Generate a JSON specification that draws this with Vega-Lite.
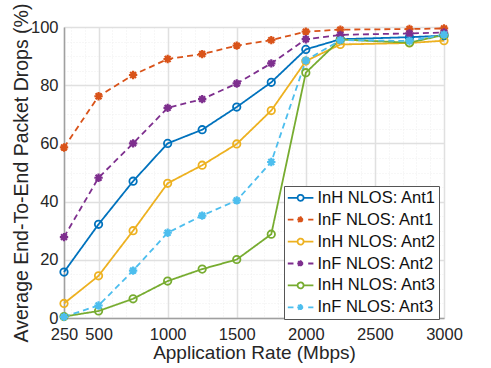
{
  "$schema": "https://vega.github.io/schema/vega-lite/v6.json",
  "width": 380,
  "height": 291,
  "autosize": {"type": "none"},
  "padding": {"left": 64, "top": 27, "right": 47, "bottom": 50},
  "background": "white",
  "config": {
    "view": {"stroke": null},
    "font": "Liberation Sans",
    "axis": {
      "domainColor": "#a0a0a0",
      "domainWidth": 1.5,
      "gridOpacity": 1,
      "ticks": false,
      "labelFont": "Liberation Sans",
      "labelFontSize": 16.5,
      "labelColor": "#262626",
      "titleFont": "Liberation Sans",
      "titleFontSize": 19,
      "titleFontWeight": "normal",
      "titleColor": "#262626"
    },
    "legend": {
      "orient": "none",
      "legendX": 220,
      "legendY": 159,
      "strokeColor": "#555555",
      "fillColor": "white",
      "padding": 2.8,
      "rowPadding": 3.9,
      "labelFont": "Liberation Sans",
      "labelFontSize": 16.5,
      "labelColor": "#111111",
      "labelOffset": 12.7,
      "symbolSize": 256,
      "symbolStrokeWidth": 1.8,
      "symbolOpacity": 1,
      "symbolFillColor": "transparent"
    }
  },
  "data": {
    "values": [
      {"series": "InH NLOS: Ant1", "rate": 250, "drops": 15.8},
      {"series": "InH NLOS: Ant1", "rate": 500, "drops": 32.2},
      {"series": "InH NLOS: Ant1", "rate": 750, "drops": 47},
      {"series": "InH NLOS: Ant1", "rate": 1000, "drops": 60},
      {"series": "InH NLOS: Ant1", "rate": 1250, "drops": 64.7},
      {"series": "InH NLOS: Ant1", "rate": 1500, "drops": 72.5},
      {"series": "InH NLOS: Ant1", "rate": 1750, "drops": 81},
      {"series": "InH NLOS: Ant1", "rate": 2000, "drops": 92.3},
      {"series": "InH NLOS: Ant1", "rate": 2250, "drops": 95.8},
      {"series": "InH NLOS: Ant1", "rate": 2750, "drops": 96.5},
      {"series": "InH NLOS: Ant1", "rate": 3000, "drops": 97},
      {"series": "InF NLOS: Ant1", "rate": 250, "drops": 58.6},
      {"series": "InF NLOS: Ant1", "rate": 500, "drops": 76.2},
      {"series": "InF NLOS: Ant1", "rate": 750, "drops": 83.5},
      {"series": "InF NLOS: Ant1", "rate": 1000, "drops": 89},
      {"series": "InF NLOS: Ant1", "rate": 1250, "drops": 90.7},
      {"series": "InF NLOS: Ant1", "rate": 1500, "drops": 93.6},
      {"series": "InF NLOS: Ant1", "rate": 1750, "drops": 95.5},
      {"series": "InF NLOS: Ant1", "rate": 2000, "drops": 98.4},
      {"series": "InF NLOS: Ant1", "rate": 2250, "drops": 99.1},
      {"series": "InF NLOS: Ant1", "rate": 2750, "drops": 99.3},
      {"series": "InF NLOS: Ant1", "rate": 3000, "drops": 99.5},
      {"series": "InH NLOS: Ant2", "rate": 250, "drops": 5},
      {"series": "InH NLOS: Ant2", "rate": 500, "drops": 14.5},
      {"series": "InH NLOS: Ant2", "rate": 750, "drops": 30},
      {"series": "InH NLOS: Ant2", "rate": 1000, "drops": 46.3},
      {"series": "InH NLOS: Ant2", "rate": 1250, "drops": 52.5},
      {"series": "InH NLOS: Ant2", "rate": 1500, "drops": 59.8},
      {"series": "InH NLOS: Ant2", "rate": 1750, "drops": 71.3},
      {"series": "InH NLOS: Ant2", "rate": 2000, "drops": 88.3},
      {"series": "InH NLOS: Ant2", "rate": 2250, "drops": 94},
      {"series": "InH NLOS: Ant2", "rate": 2750, "drops": 94.5},
      {"series": "InH NLOS: Ant2", "rate": 3000, "drops": 95.3},
      {"series": "InF NLOS: Ant2", "rate": 250, "drops": 27.8},
      {"series": "InF NLOS: Ant2", "rate": 500, "drops": 48.2},
      {"series": "InF NLOS: Ant2", "rate": 750, "drops": 60},
      {"series": "InF NLOS: Ant2", "rate": 1000, "drops": 72.2},
      {"series": "InF NLOS: Ant2", "rate": 1250, "drops": 75.2},
      {"series": "InF NLOS: Ant2", "rate": 1500, "drops": 80.6},
      {"series": "InF NLOS: Ant2", "rate": 1750, "drops": 87.5},
      {"series": "InF NLOS: Ant2", "rate": 2000, "drops": 95.8},
      {"series": "InF NLOS: Ant2", "rate": 2250, "drops": 97.3},
      {"series": "InF NLOS: Ant2", "rate": 2750, "drops": 97.8},
      {"series": "InF NLOS: Ant2", "rate": 3000, "drops": 98.1},
      {"series": "InH NLOS: Ant3", "rate": 250, "drops": 0.5},
      {"series": "InH NLOS: Ant3", "rate": 500, "drops": 2.4},
      {"series": "InH NLOS: Ant3", "rate": 750, "drops": 6.6},
      {"series": "InH NLOS: Ant3", "rate": 1000, "drops": 12.7},
      {"series": "InH NLOS: Ant3", "rate": 1250, "drops": 16.8},
      {"series": "InH NLOS: Ant3", "rate": 1500, "drops": 20.1},
      {"series": "InH NLOS: Ant3", "rate": 1750, "drops": 28.8},
      {"series": "InH NLOS: Ant3", "rate": 2000, "drops": 84.3},
      {"series": "InH NLOS: Ant3", "rate": 2250, "drops": 95.7},
      {"series": "InH NLOS: Ant3", "rate": 2750, "drops": 94.6},
      {"series": "InH NLOS: Ant3", "rate": 3000, "drops": 97.3},
      {"series": "InF NLOS: Ant3", "rate": 250, "drops": 0.4},
      {"series": "InF NLOS: Ant3", "rate": 500, "drops": 4.3},
      {"series": "InF NLOS: Ant3", "rate": 750, "drops": 16.3},
      {"series": "InF NLOS: Ant3", "rate": 1000, "drops": 29.3},
      {"series": "InF NLOS: Ant3", "rate": 1250, "drops": 35.2},
      {"series": "InF NLOS: Ant3", "rate": 1500, "drops": 40.4},
      {"series": "InF NLOS: Ant3", "rate": 1750, "drops": 53.6},
      {"series": "InF NLOS: Ant3", "rate": 2000, "drops": 88.5},
      {"series": "InF NLOS: Ant3", "rate": 2250, "drops": 95.5},
      {"series": "InF NLOS: Ant3", "rate": 2750, "drops": 95.2},
      {"series": "InF NLOS: Ant3", "rate": 3000, "drops": 97.4}
    ]
  },
  "encoding": {
    "x": {
      "field": "rate",
      "type": "quantitative",
      "scale": {"domain": [250, 3000], "nice": false, "zero": false},
      "axis": {
        "values": [250, 300, 400, 500, 600, 700, 800, 900, 1000, 1100, 1200, 1300, 1400, 1500, 1600, 1700, 1800, 1900, 2000, 2100, 2200, 2300, 2400, 2500, 2600, 2700, 2800, 2900, 3000],
        "labelExpr": "(datum.value % 500 == 0 || datum.value == 250) ? datum.label : ''",
        "gridColor": {"condition": {"test": "datum.value % 500 == 0 || datum.value == 250", "value": "#e0e0e0"}, "value": "#eeeeee"},
        "gridDash": {"condition": {"test": "datum.value % 500 == 0 || datum.value == 250", "value": []}, "value": [1, 2]},
        "gridWidth": {"condition": {"test": "datum.value % 500 == 0 || datum.value == 250", "value": 1.5}, "value": 1},
        "format": "d",
        "title": "Application Rate (Mbps)",
        "labelPadding": 8,
        "titlePadding": 1,
        "labelFlush": false
      }
    },
    "y": {
      "field": "drops",
      "type": "quantitative",
      "scale": {"domain": [0, 100], "nice": false},
      "axis": {
        "values": [0, 5, 10, 15, 20, 25, 30, 35, 40, 45, 50, 55, 60, 65, 70, 75, 80, 85, 90, 95, 100],
        "labelExpr": "(datum.value % 20 == 0) ? datum.label : ''",
        "gridColor": {"condition": {"test": "datum.value % 20 == 0", "value": "#e0e0e0"}, "value": "#eeeeee"},
        "gridDash": {"condition": {"test": "datum.value % 20 == 0", "value": []}, "value": [1, 2]},
        "gridWidth": {"condition": {"test": "datum.value % 20 == 0", "value": 1.5}, "value": 1},
        "format": "d",
        "title": "Average End-To-End Packet Drops (%)",
        "titleFontSize": 19.5,
        "labelPadding": 6,
        "titlePadding": -1
      }
    }
  },
  "layer": [
    {
      "mark": {"type": "point", "filled": false, "strokeWidth": 1.8, "opacity": 0},
      "encoding": {
        "color": {
          "field": "series",
          "type": "nominal",
          "sort": null,
          "scale": {
            "domain": ["InH NLOS: Ant1", "InF NLOS: Ant1", "InH NLOS: Ant2", "InF NLOS: Ant2", "InH NLOS: Ant3", "InF NLOS: Ant3"],
            "range": ["#0072BD", "#D95319", "#EDB120", "#7E2F8E", "#77AC30", "#4DBEEE"]
          },
          "legend": {"title": null}
        },
        "shape": {
          "field": "series",
          "type": "nominal",
          "sort": null,
          "scale": {
            "domain": ["InH NLOS: Ant1", "InF NLOS: Ant1", "InH NLOS: Ant2", "InF NLOS: Ant2", "InH NLOS: Ant3", "InF NLOS: Ant3"],
            "range": [
              "M-1,0L0.225,0M0.975,0L2.2,0M0.975,0A0.375,0.375 0 1,1 0.225,0A0.375,0.375 0 1,1 0.975,0",
              "M-1,0L-0.29,0M1.55,0L2.2,0M0.6,-0.42L0.6,0.42M0.18,0L1.02,0M0.3,-0.3L0.9,0.3M0.3,0.3L0.9,-0.3",
              "M-1,0L0.225,0M0.975,0L2.2,0M0.975,0A0.375,0.375 0 1,1 0.225,0A0.375,0.375 0 1,1 0.975,0",
              "M-1,0L-0.29,0M1.55,0L2.2,0M0.6,-0.42L0.6,0.42M0.18,0L1.02,0M0.3,-0.3L0.9,0.3M0.3,0.3L0.9,-0.3",
              "M-1,0L0.225,0M0.975,0L2.2,0M0.975,0A0.375,0.375 0 1,1 0.225,0A0.375,0.375 0 1,1 0.975,0",
              "M-1,0L-0.29,0M1.55,0L2.2,0M0.6,-0.42L0.6,0.42M0.18,0L1.02,0M0.3,-0.3L0.9,0.3M0.3,0.3L0.9,-0.3"
            ]
          },
          "legend": {"title": null}
        }
      }
    },
    {
      "mark": {"type": "line", "strokeWidth": 1.8},
      "encoding": {
        "color": {"field": "series", "type": "nominal", "sort": null, "legend": null},
        "strokeDash": {
          "field": "series",
          "type": "nominal",
          "scale": {
            "domain": ["InH NLOS: Ant1", "InF NLOS: Ant1", "InH NLOS: Ant2", "InF NLOS: Ant2", "InH NLOS: Ant3", "InF NLOS: Ant3"],
            "range": [[1, 0], [6, 4], [1, 0], [6, 4], [1, 0], [6, 4]]
          },
          "legend": null
        }
      }
    },
    {
      "transform": [{"filter": "indexof(datum.series, 'InH') == 0"}],
      "mark": {"type": "point", "shape": "circle", "filled": false, "size": 55, "strokeWidth": 1.8, "opacity": 1},
      "encoding": {
        "color": {"field": "series", "type": "nominal", "sort": null, "legend": null}
      }
    },
    {
      "transform": [{"filter": "indexof(datum.series, 'InF') == 0"}],
      "mark": {"type": "point", "shape": "M0,-1L0,1M-1,0L1,0M-0.7,-0.7L0.7,0.7M-0.7,0.7L0.7,-0.7", "filled": false, "size": 70, "strokeWidth": 2.2, "opacity": 1},
      "encoding": {
        "color": {"field": "series", "type": "nominal", "sort": null, "legend": null}
      }
    }
  ]
}
